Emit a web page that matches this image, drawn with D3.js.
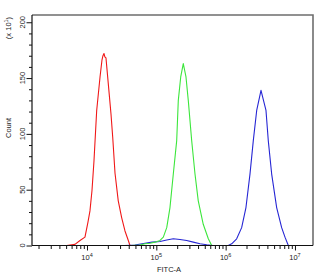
<!DOCTYPE html>
<html>
<head>
<meta charset="utf-8">
<script src="https://cdn.jsdelivr.net/npm/d3@7/dist/d3.min.js"></script>
<style>
  html, body { margin: 0; padding: 0; background: #fff; }
  svg { display: block; }
  text { font-family: "Liberation Sans", Arial, sans-serif; fill: #222; }
</style>
</head>
<body>
<svg id="chart" width="318" height="275"></svg>
<script>
// ---- data (FITC-A intensity, count in units of 10^1) ----
const redFITC   = [5090, 6710, 7930, 9350, 10330, 11040, 11800, 12620, 13800, 15420, 16440, 17000, 17580, 18100, 18790, 20280, 22180, 23500, 25350, 28250, 31620, 35320, 39450, 41690];
const redCount  = [0, 1, 4.5, 7.5, 21, 31, 49, 76, 121, 151, 166, 170, 172, 169, 168, 145, 118, 97, 65, 40, 25, 13, 4.5, 0];

const greenFITC  = [43150, 58080, 68710, 81100, 95720, 113000, 126200, 141300, 157400, 175800, 196800, 207500, 224900, 244900, 267900, 289100, 323600, 361400, 402700, 475300, 562300, 629500];
const greenCount = [0, 0.5, 1.5, 2, 3, 4.5, 7.5, 16, 34, 64, 94, 130, 151, 163, 151, 130, 94, 64, 40, 19, 6, 0];

const blueFITC  = [35320, 49200, 68710, 86700, 113000, 141300, 175800, 219300, 274200, 341200, 426600, 533300, 656100, 857000, 1091000, 1222000, 1442000, 1702000, 1963000, 2244000, 2506000, 2805000, 3236000, 3819000, 4121000, 4613000, 5445000, 6427000, 7178000, 8017000];
const blueCount = [0, 0.5, 2, 3, 3.6, 5, 6, 5.4, 4.5, 3, 1.5, 0.6, 0, 0, 0, 1.5, 6, 16, 34, 64, 94, 121, 139, 121, 94, 64, 34, 16, 7.5, 0];

const xMajorTicks = [1e4, 1e5, 1e6, 1e7];
const xTickExponents = ["4", "5", "6", "7"];
const yMajorTicks = [0, 50, 100, 150, 200];
const yMinorStep = 10;
const xDomain = [1610, 18200000];
const yDomain = [0, 206.5];

// ---- layout ----
const svg = d3.select("#chart");
const L = 32, R = 313, T = 15, B = 245.5;

const x = d3.scaleLog().domain(xDomain).range([L, R]);
const y = d3.scaleLinear().domain(yDomain).range([B, T]);

svg.append("defs").append("clipPath").attr("id", "clip")
  .append("rect").attr("x", L).attr("y", T).attr("width", R - L).attr("height", B - T);

// frame (top/right grey)
svg.append("path")
  .attr("d", `M${L},${T}H${R}V${B}`)
  .attr("fill", "none").attr("stroke", "#6e6e6e").attr("stroke-width", 1.6);

// curves
const series = [
  {xs: redFITC, ys: redCount, color: "#f01818"},
  {xs: blueFITC, ys: blueCount, color: "#2626d4"},
  {xs: greenFITC, ys: greenCount, color: "#3ce63c"}
];
const line = d3.line().x(d => x(d[0])).y(d => y(d[1]));
const g = svg.append("g").attr("clip-path", "url(#clip)");
series.forEach(s => {
  g.append("path")
    .datum(s.xs.map((v, i) => [v, s.ys[i]]))
    .attr("d", line)
    .attr("fill", "none")
    .attr("stroke", s.color)
    .attr("stroke-width", 1.1)
    .attr("stroke-linejoin", "round");
});

// x axis
const xMinor = x.ticks().filter(t => !xMajorTicks.includes(t));
svg.append("g").attr("transform", `translate(0,${B})`)
  .call(d3.axisBottom(x).tickValues(xMinor).tickSize(3.5).tickFormat(""))
  .call(a => a.select(".domain").remove())
  .call(a => a.selectAll("line").attr("stroke", "#111"));
svg.append("g").attr("transform", `translate(0,${B})`)
  .call(d3.axisBottom(x).tickValues(xMajorTicks).tickSize(5).tickFormat(""))
  .call(a => a.select(".domain").remove())
  .call(a => a.selectAll("line").attr("stroke", "#111"));
svg.append("line").attr("x1", L).attr("x2", R).attr("y1", B).attr("y2", B)
  .attr("stroke", "#111").attr("stroke-width", 1.2);

const xl = svg.append("g");
xMajorTicks.forEach((t, i) => {
  const txt = xl.append("text")
    .attr("x", x(t)).attr("y", 260)
    .attr("text-anchor", "middle")
    .attr("font-size", 7.5);
  txt.append("tspan").text("10");
  txt.append("tspan").attr("dy", -3).attr("font-size", 5.5).text(xTickExponents[i]);
});
svg.append("text").attr("x", 169).attr("y", 272)
  .attr("text-anchor", "middle").attr("font-size", 7.5).text("FITC-A");

// y axis
const yMinor = d3.range(0, yDomain[1], yMinorStep).filter(v => !yMajorTicks.includes(v));
svg.append("g").attr("transform", `translate(${L},0)`)
  .call(d3.axisLeft(y).tickValues(yMinor).tickSize(3).tickFormat(""))
  .call(a => a.select(".domain").remove())
  .call(a => a.selectAll("line").attr("stroke", "#111"));
svg.append("g").attr("transform", `translate(${L},0)`)
  .call(d3.axisLeft(y).tickValues(yMajorTicks).tickSize(5.5).tickFormat(""))
  .call(a => a.select(".domain").remove())
  .call(a => a.selectAll("line").attr("stroke", "#111"));
svg.append("line").attr("x1", L).attr("x2", L).attr("y1", T).attr("y2", B)
  .attr("stroke", "#111").attr("stroke-width", 1.2);

yMajorTicks.forEach(t => {
  svg.append("text")
    .attr("transform", `translate(24.5,${y(t)}) rotate(-90)`)
    .attr("text-anchor", "middle")
    .attr("font-size", 7.5)
    .text(t);
});

svg.append("text")
  .attr("transform", `translate(11,128) rotate(-90)`)
  .attr("text-anchor", "middle").attr("font-size", 7.5).text("Count");

const unit = svg.append("text")
  .attr("transform", `translate(11,28) rotate(-90)`)
  .attr("text-anchor", "middle").attr("font-size", 7.5);
unit.append("tspan").text("(x 10");
unit.append("tspan").attr("dy", -3).attr("font-size", 5.5).text("1");
unit.append("tspan").attr("dy", 3).text(")");
</script>
</body>
</html>
